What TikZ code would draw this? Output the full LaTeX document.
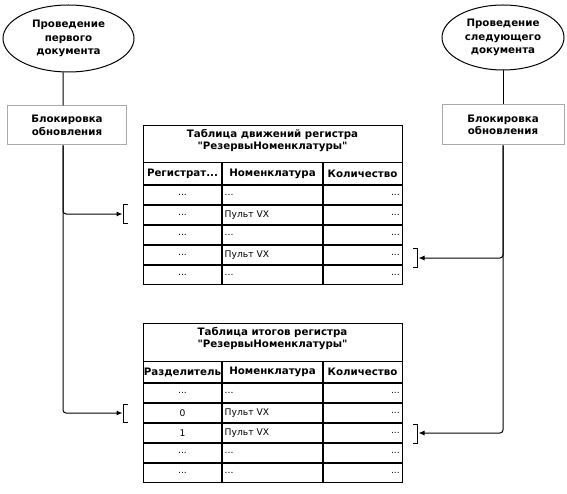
\documentclass[tikz,border=0pt]{standalone}
\usepackage{fontspec}
\setmainfont{DejaVu Sans}[Ligatures=TeXOff]
\usetikzlibrary{arrows.meta,shapes.geometric}
\definecolor{boxgray}{RGB}{170,170,170}
\newcommand{\tdots}{...}
\begin{document}
\begin{tikzpicture}[x=1bp,y=-1bp,
  bf/.style={font=\fontsize{10.3}{12.5}\selectfont\bfseries},
  rg/.style={font=\fontsize{9.2}{11}\selectfont},
  oval/.style={ellipse, draw, line width=1bp, inner sep=0pt, align=center, bf},
  lockbox/.style={draw=boxgray, line width=1bp, inner sep=0pt, align=center, bf},
  thinl/.style={line width=1bp},
  thickl/.style={line width=2bp},
  conn/.style={line width=1bp, rounded corners=3bp, -{Latex[length=6bp,width=5bp]}},
  brk/.style={line width=1bp},
  tframe/.style={draw, line width=1bp, inner sep=0pt, anchor=north west, minimum width=259bp},
  ttl/.style={bf, align=center, inner sep=0pt, font=\fontsize{10.3}{12}\selectfont\bfseries},
  hd/.style={bf, inner sep=0pt},
  cc/.style={rg, inner sep=0pt},
  cl/.style={rg, inner sep=0pt, anchor=west},
  cr/.style={rg, inner sep=0pt, anchor=east},
]
\useasboundingbox (0,0) rectangle (567,494);

% ovals
\node[oval, minimum width=131bp, minimum height=67bp, font=\fontsize{10.3}{13.5}\selectfont\bfseries] (e1) at (68.5,38.5) {Проведение\\первого\\документа};
\node[oval, minimum width=122bp, minimum height=65bp, font=\fontsize{10.3}{13.5}\selectfont\bfseries] (e2) at (503,37.5) {Проведение\\следующего\\документа};

% lock boxes
\node[lockbox, minimum width=118bp, minimum height=39bp] (b1) at (67,125.5) {Блокировка\\обновления};
\node[lockbox, minimum width=122bp, minimum height=40bp] (b2) at (503,125) {Блокировка\\обновления};

\draw[thinl] ([xshift=-5.5bp]e1.south) -- ([xshift=-4bp]b1.north);
\draw[thinl] (e2.south) -- (b2.north);

% ---------- table 1 ----------
\node[tframe, minimum height=159bp] (t1) at (143,125) {};
\draw[thinl] (143,163) -- (402,163);
\draw[thickl] (143,185) -- (402,185);
\foreach \yy in {205,225,245,265} \draw[thickl] (143,\yy) -- (402,\yy);
\draw[thickl] (222,163) -- (222,284);
\draw[thickl] (323,163) -- (323,284);
\node[ttl] (t1title) at (272.5,141) {Таблица движений регистра\\"РезервыНоменклатуры"};
\node[hd] (t1h1) at (182.5,174) {Регистрат...};
\node[hd] (t1h2) at (272.5,174) {Номенклатура};
\node[hd] (t1h3) at (362.5,174) {Количество};
\node[cc] (t1a1) at (182.5,195) {\tdots};
\node[cc] (t1a2) at (182.5,215) {\tdots};
\node[cc] (t1a3) at (182.5,235) {\tdots};
\node[cc] (t1a4) at (182.5,255) {\tdots};
\node[cc] (t1a5) at (182.5,274.5) {\tdots};
\node[cl] (t1b1) at (224.5,195) {\tdots};
\node[cl] (t1b2) at (224.5,215) {Пульт VX};
\node[cl] (t1b3) at (224.5,235) {\tdots};
\node[cl] (t1b4) at (224.5,255) {Пульт VX};
\node[cl] (t1b5) at (224.5,274.5) {\tdots};
\node[cr] (t1c1) at (400,195) {\tdots};
\node[cr] (t1c2) at (400,215) {\tdots};
\node[cr] (t1c3) at (400,235) {\tdots};
\node[cr] (t1c4) at (400,255) {\tdots};
\node[cr] (t1c5) at (400,274.5) {\tdots};

% ---------- table 2 ----------
\node[tframe, minimum height=159bp] (t2) at (143,323) {};
\draw[thinl] (143,361) -- (402,361);
\draw[thickl] (143,383) -- (402,383);
\foreach \yy in {403,423,443,463} \draw[thickl] (143,\yy) -- (402,\yy);
\draw[thickl] (222,361) -- (222,482);
\draw[thickl] (323,361) -- (323,482);
\node[ttl] (t2title) at (272.5,339) {Таблица итогов регистра\\"РезервыНоменклатуры"};
\node[hd] (t2h1) at (182.5,372) {Разделитель};
\node[hd] (t2h2) at (272.5,372) {Номенклатура};
\node[hd] (t2h3) at (362.5,372) {Количество};
\node[cc] (t2a1) at (182.5,393) {\tdots};
\node[cc] (t2a2) at (182.5,413) {0};
\node[cc] (t2a3) at (182.5,433) {1};
\node[cc] (t2a4) at (182.5,453) {\tdots};
\node[cc] (t2a5) at (182.5,472.5) {\tdots};
\node[cl] (t2b1) at (224.5,393) {\tdots};
\node[cl] (t2b2) at (224.5,413) {Пульт VX};
\node[cl] (t2b3) at (224.5,433) {Пульт VX};
\node[cl] (t2b4) at (224.5,453) {\tdots};
\node[cl] (t2b5) at (224.5,472.5) {\tdots};
\node[cr] (t2c1) at (400,393) {\tdots};
\node[cr] (t2c2) at (400,413) {\tdots};
\node[cr] (t2c3) at (400,433) {\tdots};
\node[cr] (t2c4) at (400,453) {\tdots};
\node[cr] (t2c5) at (400,472.5) {\tdots};

% ---------- brackets ----------
\draw[brk] (127.5,205) -- (123.5,205) -- (123.5,223) -- (127.5,223);
\draw[brk] (127.5,404) -- (123.5,404) -- (123.5,422) -- (127.5,422);
\draw[brk] (413,248) -- (417.5,248) -- (417.5,267) -- (413,267);
\draw[brk] (413,424) -- (417.5,424) -- (417.5,443) -- (413,443);
\coordinate (bl1) at (122.5,214);
\coordinate (bl2) at (122.5,413);
\coordinate (br1) at (418.5,258);
\coordinate (br2) at (418.5,433);

% ---------- connectors ----------
\coordinate (ls) at ([xshift=-4bp]b1.south);
\draw[conn] (ls) |- (bl1);
\draw[conn] (ls) |- (bl2);
\draw[conn] (b2.south) |- (br1);
\draw[conn] (b2.south) |- (br2);
\end{tikzpicture}
\end{document}
